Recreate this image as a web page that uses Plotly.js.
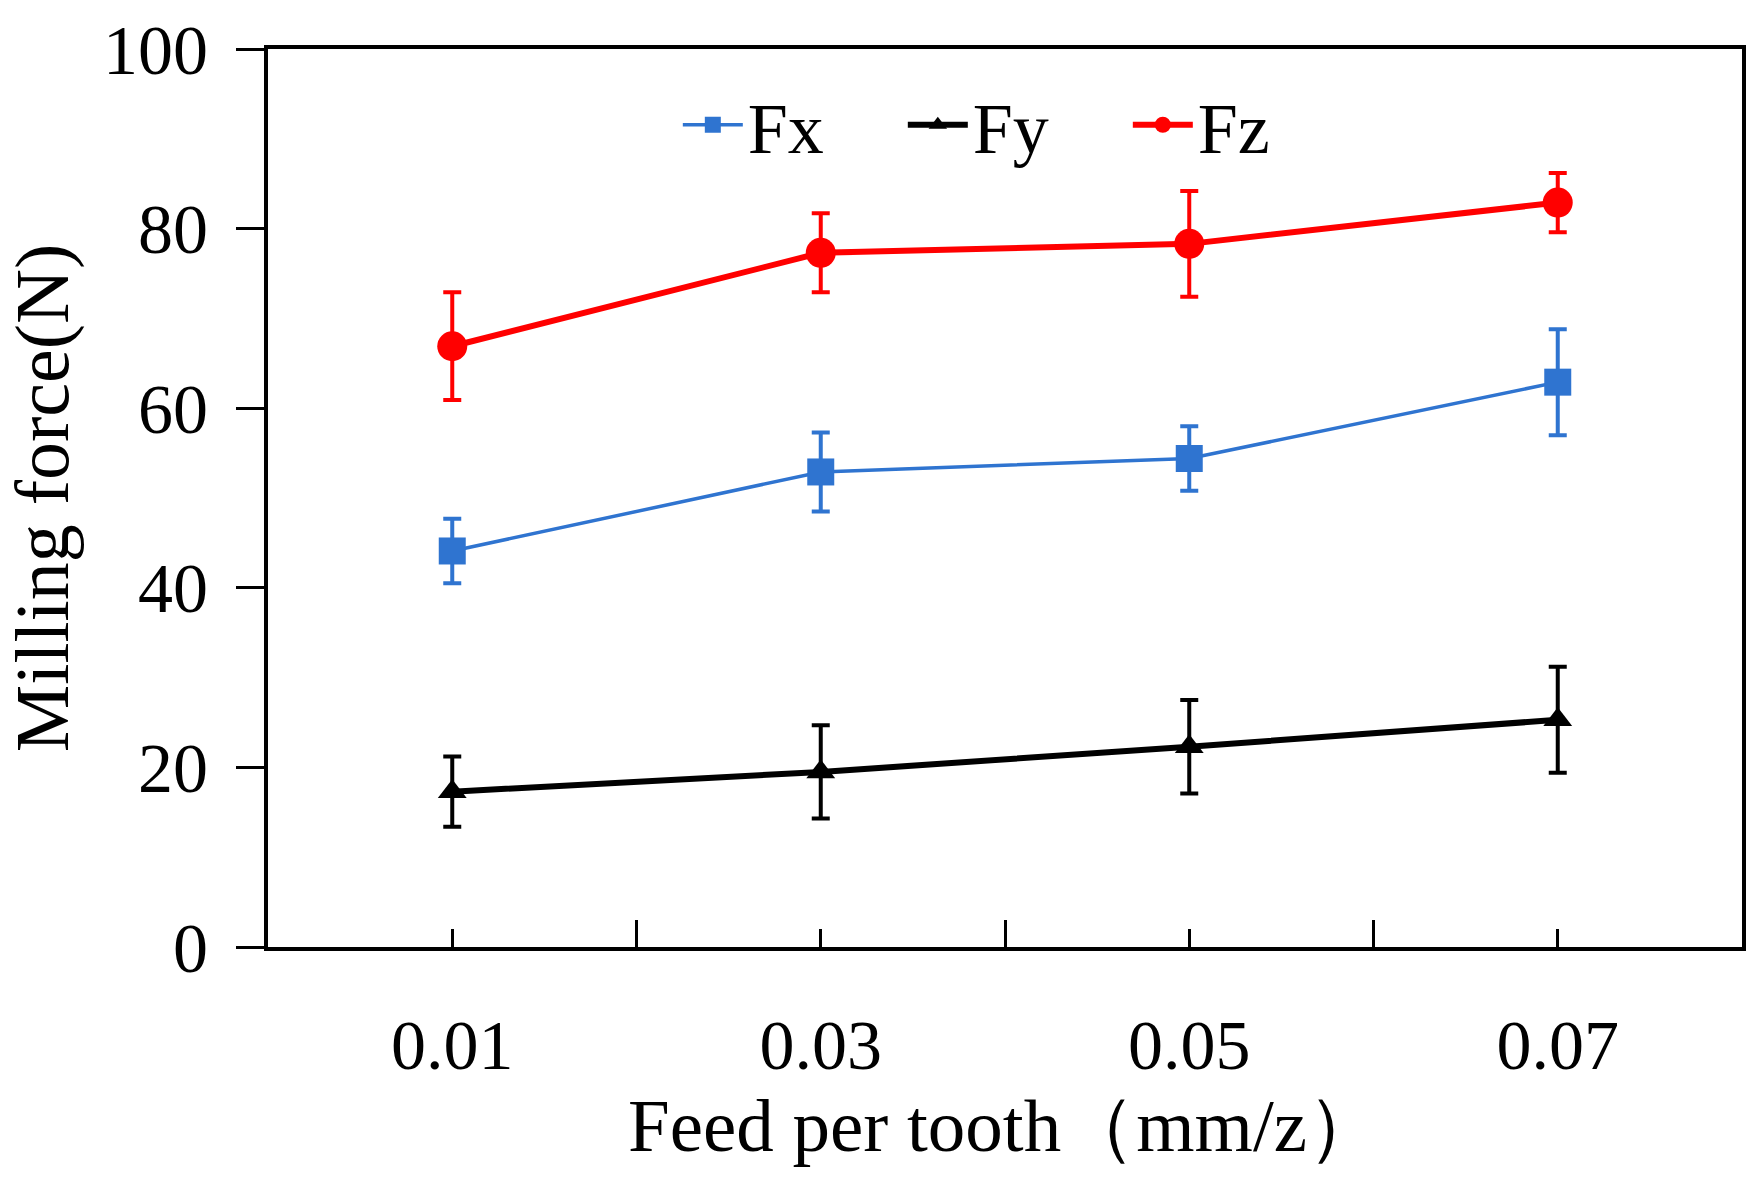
<!DOCTYPE html>
<html>
<head>
<meta charset="utf-8">
<script src="https://cdn.plot.ly/plotly-3.0.1.min.js"></script>
<style>
  html, body { margin: 0; padding: 0; background: #fff; }
  #chart { width: 1764px; height: 1179px; }
</style>
</head>
<body>
<div id="chart"></div>
<script>
// feed per tooth (mm/z)
var feed = [0.01, 0.03, 0.05, 0.07];
var feedLabels = ['0.01', '0.03', '0.05', '0.07'];

// milling force (N)
var fx = [44.1, 52.9, 54.4, 62.9];
var fxErr = [3.6, 4.4, 3.6, 5.9];
var fy = [17.3, 19.5, 22.3, 25.3];
var fyErr = [3.9, 5.2, 5.2, 5.9];
var fz = [66.9, 77.3, 78.3, 82.9];
var fzErr = [6.0, 4.4, 5.9, 3.3];

var FONT = 'Liberation Serif, Times New Roman, serif';

function series(name, y, err, color, lw, symbol, size) {
  return {
    x: feed, y: y, name: name, type: 'scatter', mode: 'lines+markers',
    line: { color: color, width: lw },
    marker: { color: color, symbol: symbol, size: size },
    error_y: { type: 'data', array: err, visible: true, color: color, thickness: 4, width: 9 }
  };
}

var data = [
  series('Fx', fx, fxErr, '#2f74d0', 3.5, 'square', 27),
  series('Fy', fy, fyErr, '#000000', 6, 'triangle-up', 25),
  series('Fz', fz, fzErr, '#ff0000', 6, 'circle', 30)
];

var layout = {
  width: 1764, height: 1179,
  paper_bgcolor: '#fff', plot_bgcolor: '#fff',
  margin: { l: 268, r: 22, t: 49, b: 232 },
  font: { family: FONT, size: 70, color: '#000' },
  showlegend: true,
  legend: {
    orientation: 'h', x: 0.507, xanchor: 'center', y: 0.975, yanchor: 'top',
    font: { family: FONT, size: 72 }, bgcolor: 'rgba(0,0,0,0)',
    entrywidth: 150, entrywidthmode: 'pixels', itemwidth: 60
  },
  xaxis: {
    range: [0, 0.08], tickvals: feed, ticktext: feedLabels,
    ticks: 'inside', ticklen: 18, tickwidth: 3, tickcolor: '#000',
    minor: { tickvals: [0.02, 0.04, 0.06], ticks: 'inside', ticklen: 27, tickwidth: 3, tickcolor: '#000', showgrid: false },
    showline: true, linewidth: 4, linecolor: '#000', mirror: true,
    showgrid: false, zeroline: false,
    ticklabelstandoff: 34,
    tickfont: { family: FONT, size: 70 },
    title: { text: 'Feed per tooth（mm/z）', font: { family: FONT, size: 75 }, standoff: 0 }
  },
  yaxis: {
    range: [0, 100], tick0: 0, dtick: 20,
    ticks: 'outside', ticklen: 28, tickwidth: 3, tickcolor: '#000',
    showline: true, linewidth: 4, linecolor: '#000', mirror: true,
    showgrid: false, zeroline: false,
    ticklabelstandoff: 14,
    tickfont: { family: FONT, size: 70 },
    title: { text: 'Milling force(N)', font: { family: FONT, size: 76 }, standoff: 12 }
  }
};

Plotly.newPlot('chart', data, layout, { displayModeBar: false, staticPlot: true });
</script>
</body>
</html>
